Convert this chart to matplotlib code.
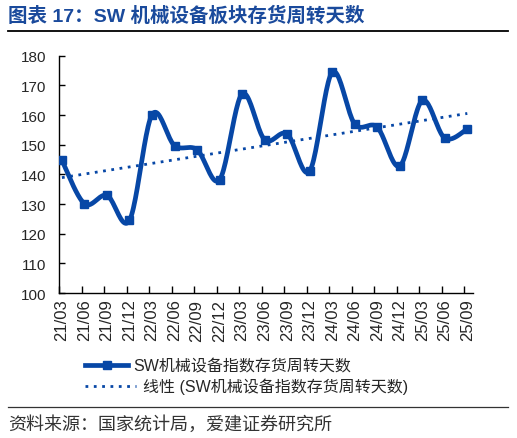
import numpy as np
import matplotlib
matplotlib.use('Agg')
import matplotlib.pyplot as plt
from matplotlib.lines import Line2D

plt.rcParams['font.family'] = ['Liberation Sans', 'Noto Sans CJK SC', 'DejaVu Sans']

# data
quarters = ['21/03', '21/06', '21/09', '21/12', '22/03', '22/06', '22/09', '22/12',
            '23/03', '23/06', '23/09', '23/12', '24/03', '24/06', '24/09', '24/12',
            '25/03', '25/06', '25/09']
days = [144.7, 130.1, 132.9, 124.5, 160.1, 149.7, 148.3, 138.2,
        167.1, 151.7, 153.6, 141.1, 174.4, 157.0, 155.9, 142.8,
        164.9, 152.2, 155.3]
yticks = [100, 110, 120, 130, 140, 150, 160, 170, 180]

series_name = 'SW机械设备指数存货周转天数'
trend_name = '线性 (SW机械设备指数存货周转天数)'
title = '图表 17：SW 机械设备板块存货周转天数'
source = '资料来源：国家统计局，爱建证券研究所'

blue = '#0747A6'
title_blue = '#1A4A9C'
grey = '#262626'


def smooth(xs, ys, n=24):
    # excel-like smoothed line (catmull-rom as cubic bezier)
    px = np.concatenate([[xs[0]], xs, [xs[-1]]])
    py = np.concatenate([[ys[0]], ys, [ys[-1]]])
    t = np.linspace(0, 1, n)
    outx, outy = [], []
    for i in range(1, len(px) - 2):
        x0, x1, x2, x3 = px[i], px[i] + (px[i + 1] - px[i - 1]) / 6, px[i + 1] - (px[i + 2] - px[i]) / 6, px[i + 1]
        y0, y1, y2, y3 = py[i], py[i] + (py[i + 1] - py[i - 1]) / 6, py[i + 1] - (py[i + 2] - py[i]) / 6, py[i + 1]
        b0, b1, b2, b3 = (1 - t) ** 3, 3 * (1 - t) ** 2 * t, 3 * (1 - t) * t ** 2, t ** 3
        outx.append(b0 * x0 + b1 * x1 + b2 * x2 + b3 * x3)
        outy.append(b0 * y0 + b1 * y1 + b2 * y2 + b3 * y3)
    return np.concatenate(outx), np.concatenate(outy)


W, H = 517, 439
fig = plt.figure(figsize=(W / 100, H / 100), dpi=100)
ax = fig.add_axes([59 / W, 1 - 294 / H, (472.7 - 59) / W, (294 - 56.7) / H])

x = np.arange(len(quarters))
y = np.array(days)

sx, sy = smooth(x.astype(float), y)
ax.plot(sx, sy, color=blue, lw=3.4, solid_capstyle='round', solid_joinstyle='round', zorder=3)
ax.plot(x, y, ls='none', marker='s', ms=5.5, color=blue, zorder=4)

coef = np.polyfit(x, y, 1)
ax.plot(x, np.polyval(coef, x), color=blue, lw=2, ls=(0, (1, 2)), zorder=2)

ax.set_ylim(100, 180)
ax.set_xlim(-0.13, 18.24)
ax.set_yticks(yticks)
ax.set_xticks(x)
ax.set_xticklabels(quarters, rotation=90)
ax.set_xticks(x - 0.13, minor=True)

ax.tick_params(axis='y', direction='in', length=4, width=1, pad=9, labelsize=11, colors='black', labelcolor=grey)
ax.tick_params(axis='x', which='major', length=0, pad=4, labelsize=12, labelcolor=grey)
ax.tick_params(axis='x', which='minor', direction='in', length=5, width=1, colors='black')

for s in ['top', 'right']:
    ax.spines[s].set_visible(False)
for s in ['left', 'bottom']:
    ax.spines[s].set_linewidth(1)
    ax.spines[s].set_color('black')

# two legends so each handle gets its own length, as in the original
h1 = Line2D([], [], color=blue, lw=3.4, marker='s', ms=5.5)
h2 = Line2D([], [], color=blue, lw=2, ls=(0, (1, 2)))
leg1 = fig.legend([h1], [series_name], loc='center left', bbox_to_anchor=(85 / W, 1 - 367 / H),
                  frameon=False, fontsize=11.5, handlelength=2.7, handletextpad=0.3,
                  borderpad=0, borderaxespad=0, numpoints=1, labelcolor=grey)
fig.legend([h2], [trend_name], loc='center left', bbox_to_anchor=(85 / W, 1 - 387 / H),
           frameon=False, fontsize=11.5, handlelength=3.2, handletextpad=0.45,
           borderpad=0, borderaxespad=0, labelcolor=grey)

fig.text(8 / W, 1 - 16 / H, title, fontsize=14, fontweight='bold', color=title_blue,
         va='center', ha='left')
fig.add_artist(Line2D([8 / W, 508 / W], [1 - 32 / H] * 2, color='black', lw=1.3))
fig.add_artist(Line2D([8 / W, 508 / W], [1 - 407.5 / H] * 2, color='#333333', lw=0.9))
fig.text(8 / W, 1 - 425 / H, source, fontsize=13, color='#333333', va='center', ha='left')

fig.savefig('out.png', dpi=100)
